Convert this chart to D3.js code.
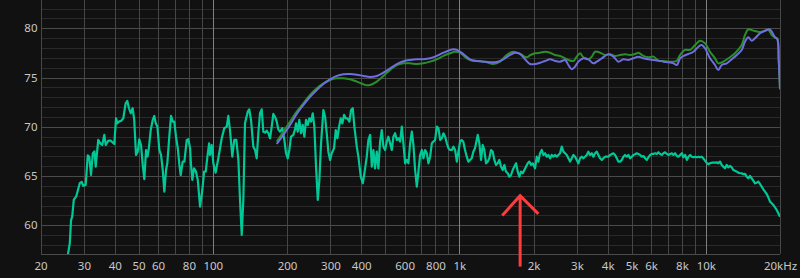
<!DOCTYPE html>
<html>
<head>
<meta charset="utf-8">
<script src="https://cdn.jsdelivr.net/npm/d3@7"></script>
<style>
body{margin:0;background:#111111;}
svg{display:block;}
</style>
</head>
<body>
<svg id="chart" width="800" height="278"></svg>
<script>
// measured response (teal), Hz / dB
var tealHz = [25.6,25.9,26.3,26.6,26.9,27.3,27.9,28.5,28.9,29.4,29.8,30.5,31.1,31.55,32.05,32.6,33.1,33.5,34.3,34.97,35.6,36.3,36.8,37.7,38.5,39.85,40.5,41.0,41.6,42.55,43.35,44.3,45.0,45.7,46.45,47.3,48.0,48.8,49.6,50.3,51.15,51.97,52.75,53.6,54.3,54.97,56.0,57.06,57.9,58.7,59.6,60.7,61.66,62.65,63.6,64.6,65.4,66.6,67.7,68.8,69.8,70.9,72.1,73.2,74.1,75.5,76.7,78.4,79.6,80.87,81.6,82.6,83.9,85.5,86.9,88.79,90.7,92.2,93.6,95.1,96.6,97.4,99.0,100.5,102.7,105.3,108.7,111.3,113.9,115.6,117.4,120.0,122.2,124.6,127.0,128.95,131.0,133.0,135.1,138.6,140.6,142.9,146.0,148.4,150.7,153.0,155.45,157.9,160.3,162.9,165.5,168.0,170.7,173.4,176.0,178.8,181.7,184.4,187.4,191.5,195.1,198.2,201.4,204.4,207.7,212.2,215.6,217.6,221.1,224.4,228.0,231.7,235.2,238.9,242.8,246.4,250.4,254.4,258.2,262.3,266.6,270.6,274.9,280.9,285.4,289.9,294.3,299.1,303.8,310.4,315.4,320.2,325.3,330.5,335.5,340.8,346.3,351.5,358.1,363.9,369.7,375.3,383.8,389.6,398.4,406.0,412.1,421.4,427.8,434.7,441.6,448.2,455.4,462.7,469.7,477.2,484.9,492.2,500.1,508.0,515.7,524.0,532.4,540.4,549.1,557.8,566.2,575.3,584.5,593.3,602.8,612.4,621.7,631.7,641.8,651.5,661.9,672.4,682.6,693.6,704.7,715.3,726.8,738.3,749.5,761.5,773.7,785.3,797.9,810.6,822.9,836.2,849.6,862.4,876.2,890.1,903.6,918,932.7,946.7,961.9,977.2,992,1007,1023,1038,1055,1072,1088,1105,1123,1140,1158,1188,1206,1225,1245,1263,1284,1304,1324,1345,1367,1387,1409,1432,1453,1477,1500,1523,1547,1572,1596,1621,1647,1672,1699,1726,1752,1780,1809,1836,1865,1895,1924,1955,1986,2029,2062,2093,2126,2161,2193,2228,2264,2298,2335,2372,2408,2446,2485,2523,2563,2604,2644,2686,2729,2770,2815,2860,2903,2949,2996,3041,3090,3140,3187,3238,3290,3339,3393,3448,3499,3555,3612,3667,3725,3785,3842,3904,4026,4090,4218,4286,4354,4420,4491,4563,4632,4706,4781,4853,4931,5010,5086,5167,5250,5329,5415,5501,5584,5674,5764,5851,5945,6040,6131,6229,6328,6424,6527,6632,6732,6840,6948,7053,7167,7282,7391,7510,7630,7744,7869,7996,8115,8246,8377,8504,8641,8779,8911,9054,9198,9337,9473,9625,9769,9926,10084,10236,10401,10568,10726,10898,11072,11239,11420,11603,11777,11966,12156,12340,12539,12740,12932,13139,13348,13550,13768,13989,14198,14426,14656,14877,15112,15354,15585,15835,16087,16330,16593,16859,17112,17387,17664,17931,18219,18511,18788,19090,19395,19689,20000];
var tealDb = [56.0,57.2,58.2,60.5,60.9,62.6,62.9,63.75,64.3,64.4,64.0,64.1,67.1,66.96,65.1,67.3,67.5,65.95,68.66,68.32,68.15,69.17,68.15,68.59,68.59,68.25,70.86,70.35,70.52,70.62,70.86,72.38,72.62,71.88,71.37,71.88,70.69,67.14,67.47,68.73,68.15,66.12,64.67,67.64,66.96,67.71,69.67,70.69,71.1,70.35,70.01,67.64,67.14,65.61,63.41,65.61,66.29,68.99,71.1,70.52,70.52,68.99,67.82,66.12,65.1,66.46,66.46,68.66,68.73,67.82,66.12,64.6,65.78,65.44,64.6,61.89,63.58,65.44,65.44,66.96,68.32,67.14,68.15,66.29,65.34,66.8,68.83,69.85,70.01,71.1,69.67,66.96,68.66,68.66,66.63,62.57,59.01,62.57,70.35,71.53,71.77,70.69,67.98,67.64,66.8,69.34,71.37,71.77,69.5,69.4,69.6,69.34,68.83,70.01,71.3,71.02,70.52,69.74,69.5,69.85,68.66,67.31,66.8,67.64,68.99,69.17,69.74,70.35,69.5,70.69,69.34,70.18,68.99,70.69,70.18,70.86,70.52,71.37,70.01,65.95,62.57,64.6,68.32,71.7,71.02,69.34,67.47,66.63,67.31,67.82,69.67,68.83,70.01,70.86,70.35,71.2,70.86,70.86,70.52,71.7,71.88,70.01,67.98,66.96,64.93,64.26,65.28,66.96,68.66,69.17,65.95,67.64,65.78,67.47,65.78,68.49,69.67,67.98,67.64,68.49,68.99,68.32,67.64,68.99,69.34,68.66,68.83,68.49,70.01,68.32,66.29,66.63,66.29,68.32,69.5,68.15,65.61,63.92,65.44,67.14,67.64,66.8,67.64,67.31,66.29,66.96,68.32,68.49,68.66,70.01,69.85,68.66,68.83,69.34,68.99,68.32,67.82,67.64,67.64,67.98,67.64,66.46,67.47,68.49,68.66,68.49,67.64,66.96,66.46,66.63,66.8,67.47,67.82,69.17,68.32,66.63,68.15,67.64,66.29,66.46,66.8,67.64,67.47,66.63,66.12,66.29,66.63,65.95,65.61,66.12,65.44,65.28,64.93,65.1,65.61,65.95,66.29,65.44,64.93,65.44,65.28,65.61,65.95,66.29,66.46,66.12,66.29,65.78,66.96,66.46,67.31,67.64,67.14,67.31,66.96,67.14,66.8,67.14,66.96,67.14,66.96,67.14,67.31,67.98,67.47,67.31,67.14,66.8,66.46,66.8,67.14,66.96,66.63,66.29,66.8,66.96,66.8,66.96,67.14,67.47,67.14,67.31,66.96,67.31,67.47,67.14,66.8,66.63,66.8,66.96,66.96,67.14,67.31,67.14,66.8,66.46,66.46,66.63,66.96,67.14,66.96,67.14,66.8,66.96,67.14,67.21,67.31,67.24,67.14,66.96,67.03,66.8,66.63,66.9,67.14,67.24,67.24,67.31,67.24,67.41,67.24,67.14,67.31,67.41,67.24,67.14,67.24,67.31,67.14,67.31,67.03,66.96,67.14,67.31,66.9,67.14,66.63,66.96,67.14,66.96,66.9,66.96,66.9,66.96,66.9,66.96,66.8,66.56,66.35,66.19,66.29,66.35,66.35,66.35,66.39,66.29,66.46,66.12,65.95,65.78,66.12,65.88,66.02,65.88,65.61,65.54,65.44,65.34,65.28,65.28,65.18,65.21,64.93,64.77,65.0,64.77,64.53,64.26,64.32,64.43,64.19,63.92,63.65,63.41,63.17,62.84,62.39,62.23,62.06,61.82,61.55,61.22,60.87];

// green curve
var greenHz = [181.7,193.3,205.8,219.0,233.0,248.1,264.1,280.9,299.1,318.4,338.6,360.5,383.8,408.2,421.4,434.7,462.7,492.2,524,557.8,593.3,631.7,672.4,715.3,761.5,810.6,862.4,918,961.9,1007,1072,1140,1214,1292,1374,1463,1557,1657,1764,1877,1937,2029,2126,2228,2335,2446,2563,2686,2770,2903,2996,3090,3187,3339,3448,3555,3725,3904,4090,4286,4491,4706,4931,5167,5329,5584,5851,6131,6424,6732,7053,7391,7630,7869,8246,8641,9054,9473,9926,10401,10898,11239,11777,12340,13139,13989,14426,14877,15585,16593,17387,17931,18511,19090,19500,19760,20000];
var greenDb = [68.49,69.5,70.52,71.53,72.38,73.22,73.9,74.41,74.75,74.92,74.92,74.82,74.58,74.31,74.21,74.24,74.58,75.16,75.77,76.27,76.44,76.44,76.37,76.44,76.61,76.85,77.19,77.46,77.62,77.52,76.95,76.68,76.68,76.55,76.37,76.61,77.29,77.62,77.39,77.05,77.26,77.46,77.52,77.62,77.52,77.29,77.19,76.95,76.78,76.68,77.12,77.46,77.05,76.85,77.12,77.62,77.52,77.29,77.36,77.19,77.29,77.36,77.29,77.39,77.52,77.19,77.05,77.12,76.71,76.68,76.61,76.61,76.71,77.29,77.8,77.8,78.3,78.74,78.47,77.62,76.95,76.44,76.61,76.95,77.46,78.3,79.32,79.9,79.76,79.62,79.76,79.83,79.32,79.08,78.98,76.78,73.8];

// purple curve
var purpleHz = [181.7,193.3,205.8,219.0,233.0,248.1,264.1,280.9,299.1,318.4,338.6,360.5,383.8,408.2,434.7,462.7,492.2,524,557.8,593.3,631.7,672.4,715.3,761.5,810.6,862.4,918,946.7,977.2,1038,1105,1177,1252,1333,1418,1509,1606,1683,1764,1848,1937,2029,2126,2228,2335,2446,2563,2686,2770,2860,2949,3041,3187,3339,3499,3612,3785,4026,4218,4420,4632,4853,5086,5329,5584,5851,6131,6424,6732,7053,7391,7630,7869,8115,8504,8911,9337,9625,9926,10401,10898,11239,11603,12156,12740,13348,13989,14426,14877,15354,15835,16593,17112,17664,18101,18511,19090,19500,19760,20000];
var purpleDb = [68.25,69.17,70.18,71.3,72.21,73.05,73.73,74.34,74.82,75.16,75.33,75.36,75.29,75.16,75.05,75.16,75.49,75.94,76.37,76.65,76.78,76.85,76.85,76.95,77.19,77.52,77.8,77.87,77.8,77.39,76.85,76.68,76.61,76.55,76.58,76.85,77.29,77.52,77.39,76.85,76.37,76.37,76.5,76.68,76.85,76.68,76.61,76.78,76.27,75.84,76.1,76.61,76.95,76.85,76.44,76.61,76.95,77.36,77.12,76.61,76.85,76.78,76.95,77.12,76.95,76.85,76.78,76.71,76.61,76.55,76.44,76.27,76.95,77.19,77.39,77.62,78.13,78.3,77.97,76.95,76.27,75.76,76.27,76.44,76.85,77.29,77.8,78.64,79.08,78.74,78.98,79.49,79.66,79.83,79.9,79.66,79.08,78.88,76.78,73.8];

var xTicks = [20,30,40,50,60,80,100,200,300,400,600,800,1000,2000,3000,4000,5000,6000,8000,10000,20000];
var xTickLabels = ["20","30","40","50","60","80","100","200","300","400","600","800","1k","2k","3k","4k","5k","6k","8k","10k","20kHz"];
var yTicks = [60,65,70,75,80];

// annotation arrow (Hz / dB)
var arrowHz = 1765, arrowTipDb = 63.0, arrowEndDb = 55.8;
var arrowHeadHz = [1494, 2093], arrowHeadDb = [61.0, 61.15];

var plot = {left: 40.5, right: 780, top: 0, bottom: 254};

var x = d3.scaleLog().domain([20, 20000]).range([plot.left, plot.right]);
var y = d3.scaleLinear().domain([57.08, 82.87]).range([plot.bottom, plot.top]);

var svg = d3.select("#chart");

// grid
var gridHz = [];
[10, 100, 1000, 10000].forEach(function(dec) {
  for (var m = 1; m <= 9; m++) {
    var f = dec * m;
    if (f >= 20 && f <= 20000) gridHz.push(f);
  }
});
gridHz.push(20000);

var gridDb = d3.range(58, 83);

var grid = svg.append("g").attr("shape-rendering", "crispEdges");

grid.selectAll("line.h")
  .data(gridDb)
  .enter().append("line")
  .attr("x1", plot.left).attr("x2", plot.right)
  .attr("y1", function(d) { return Math.round(y(d)) + 0.5; })
  .attr("y2", function(d) { return Math.round(y(d)) + 0.5; })
  .attr("stroke", function(d) { return d % 5 == 0 ? "#4a4a4a" : "#2a2a2a"; });

grid.selectAll("line.v")
  .data(gridHz)
  .enter().append("line")
  .attr("y1", plot.top).attr("y2", plot.bottom)
  .attr("x1", function(d) { return Math.round(x(d)) + 0.5; })
  .attr("x2", function(d) { return Math.round(x(d)) + 0.5; })
  .attr("stroke", function(d) { return (d == 100 || d == 1000 || d == 10000) ? "#808080" : "#464646"; });

grid.append("line")
  .attr("x1", plot.left).attr("x2", plot.right)
  .attr("y1", plot.bottom + 0.5).attr("y2", plot.bottom + 0.5)
  .attr("stroke", "#4a4a4a");

// axes
var xAxis = svg.append("g")
  .attr("transform", "translate(0," + plot.bottom + ")")
  .call(d3.axisBottom(x).tickValues(xTicks).tickSize(0).tickPadding(8)
    .tickFormat(function(d, i) { return xTickLabels[i]; }));

var yAxis = svg.append("g")
  .attr("transform", "translate(" + plot.left + ",0)")
  .call(d3.axisLeft(y).tickValues(yTicks).tickSize(0).tickPadding(3));

[xAxis, yAxis].forEach(function(a) {
  a.select(".domain").remove();
  a.selectAll("text")
    .attr("fill", "#c8c8c8")
    .style("font-family", "'Noto Sans', 'Open Sans', sans-serif")
    .style("font-size", "11.5px");
});

// curves
svg.append("clipPath").attr("id", "clip")
  .append("rect")
  .attr("x", plot.left).attr("y", plot.top)
  .attr("width", plot.right - plot.left).attr("height", plot.bottom - plot.top);

function pairs(hz, db) {
  return hz.map(function(f, i) { return {f: f, db: db[i]}; });
}

var rawLine = d3.line()
  .x(function(d) { return x(d.f); })
  .y(function(d) { return y(d.db); });

var smoothLine = d3.line()
  .x(function(d) { return x(d.f); })
  .y(function(d) { return y(d.db); })
  .curve(d3.curveCatmullRom);

var curves = svg.append("g").attr("clip-path", "url(#clip)");

curves.append("path")
  .datum(pairs(tealHz, tealDb))
  .attr("d", rawLine)
  .attr("fill", "none")
  .attr("stroke", "#00c896")
  .attr("stroke-width", 2.2)
  .attr("stroke-linejoin", "round");

curves.append("path")
  .datum(pairs(greenHz, greenDb))
  .attr("d", smoothLine)
  .attr("fill", "none")
  .attr("stroke", "#2a8f2a")
  .attr("stroke-width", 2);

curves.append("path")
  .datum(pairs(purpleHz, purpleDb))
  .attr("d", smoothLine)
  .attr("fill", "none")
  .attr("stroke", "#6e6ee0")
  .attr("stroke-width", 2);

// red arrow
var arrow = svg.append("g")
  .attr("stroke", "#ff3c3c")
  .attr("stroke-width", 3)
  .attr("fill", "none");

arrow.append("line")
  .attr("x1", x(arrowHz)).attr("x2", x(arrowHz))
  .attr("y1", y(arrowTipDb)).attr("y2", y(arrowEndDb));

arrow.append("path")
  .attr("d", "M" + x(arrowHeadHz[0]) + "," + y(arrowHeadDb[0]) +
    "L" + x(arrowHz) + "," + y(arrowTipDb) +
    "L" + x(arrowHeadHz[1]) + "," + y(arrowHeadDb[1]));
</script>
</body>
</html>
